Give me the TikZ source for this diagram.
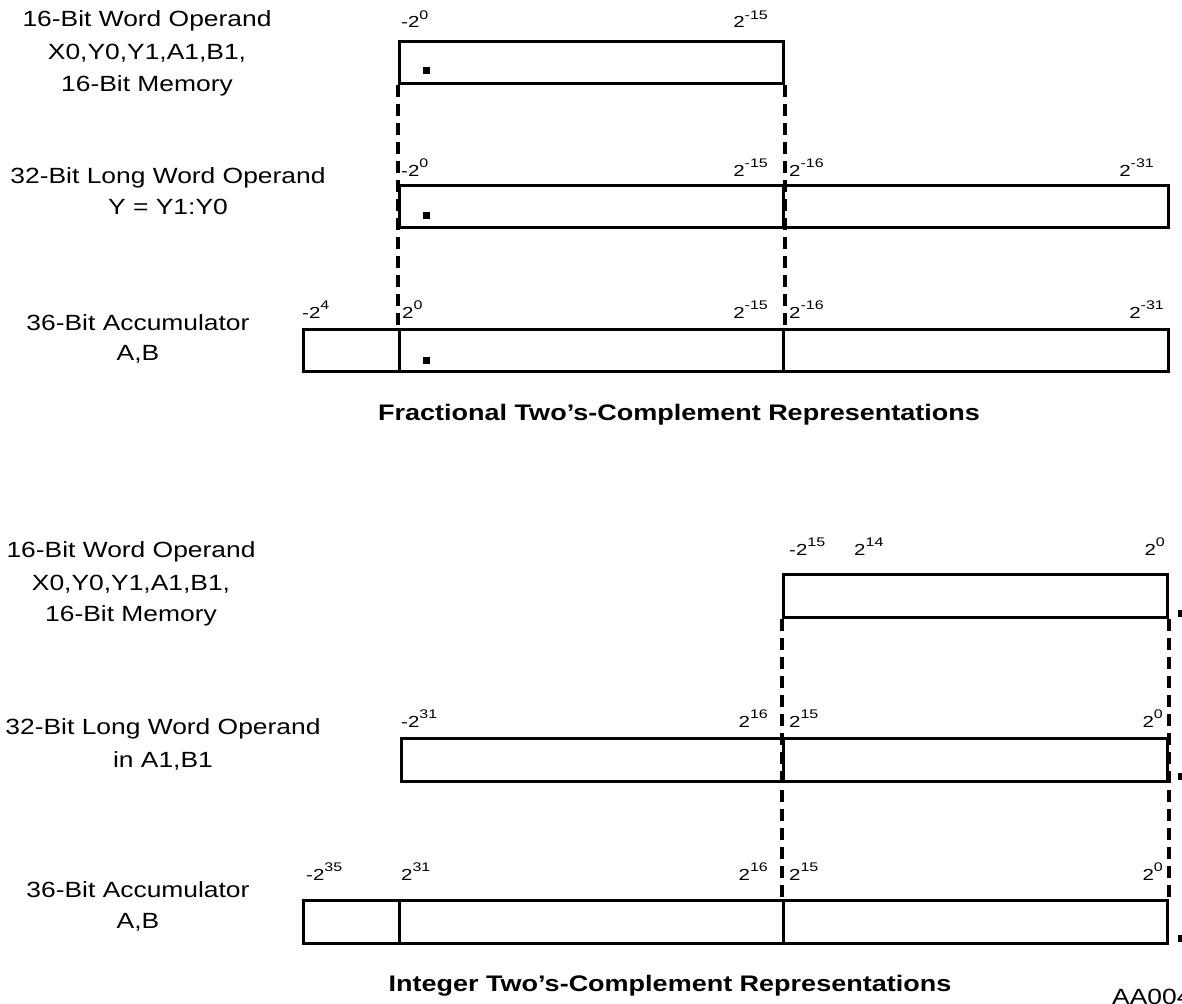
\documentclass[tikz,border=0pt]{standalone}
\usepackage{fontspec}
\setmainfont[FakeStretch=1.2]{Liberation Sans}
\newfontfamily\lblfont[FakeStretch=1.28]{Liberation Sans}
% power-of-two weight label: base with raised exponent
\newcommand\pw[2]{#1\raisebox{8.5pt}{\fontsize{12.5}{12.5}\selectfont #2}}

\begin{document}
\begin{tikzpicture}[x=1pt, y=-1pt,
  cell/.style={draw, line width=3pt, fill=white, rectangle, inner sep=0pt, anchor=north west},
  guide/.style={line width=3.2pt, dash pattern=on 12pt off 7pt},
  desc/.style={font=\fontsize{22}{26}\selectfont, anchor=base, inner sep=0pt},
  pow/.style={font=\lblfont\fontsize{16}{18}\selectfont, inner sep=0pt},
  heading/.style={font=\bfseries\fontsize{22.5}{26}\selectfont, anchor=base, inner sep=0pt},
  point/.style={fill, rectangle, minimum size=7pt, inner sep=0pt}]
\useasboundingbox (0,0) rectangle (1182,1003);

% ---------- fractional formats ----------
\node[cell, minimum width=384pt, minimum height=42pt] (f1)  at (398,40) {};
\node[cell, minimum width=384pt, minimum height=42pt] (f2a) at (398,184) {};
\node[cell, minimum width=385pt, minimum height=42pt] (f2b) at (782,184) {};
\node[cell, minimum width=96pt,  minimum height=42pt] (f3a) at (302,328) {};
\node[cell, minimum width=384pt, minimum height=42pt] (f3b) at (398,328) {};
\node[cell, minimum width=385pt, minimum height=42pt] (f3c) at (782,328) {};

\draw[guide] (f1.south west) -- (f3b.north west);
\draw[guide] (f1.south east) -- (f3b.north east);

\node[point] (fd1) at (426,71) {};
\node[point] (fd2) at (426,215) {};
\node[point] (fd3) at (426,360) {};

\node[pow, anchor=base west] (fl1a) at (401,28) {-\pw{2}{0}};
\node[pow, anchor=base east] (fl1b) at (768,28) {\pw{2}{-15}};
\node[pow, anchor=base west] (fl2a) at (401,176) {-\pw{2}{0}};
\node[pow, anchor=base east] (fl2b) at (768,176) {\pw{2}{-15}};
\node[pow, anchor=base west] (fl2c) at (789,176) {\pw{2}{-16}};
\node[pow, anchor=base east] (fl2d) at (1154,176) {\pw{2}{-31}};
\node[pow, anchor=base west] (fl3a) at (302,318) {-\pw{2}{4}};
\node[pow, anchor=base west] (fl3b) at (402,318) {\pw{2}{0}};
\node[pow, anchor=base east] (fl3c) at (768,318) {\pw{2}{-15}};
\node[pow, anchor=base west] (fl3d) at (789,318) {\pw{2}{-16}};
\node[pow, anchor=base east] (fl3e) at (1164,318) {\pw{2}{-31}};

\node[desc] (fw1) at (147,27) {16-Bit Word Operand};
\node[desc] (fw2) at (147,60) {X0,Y0,Y1,A1,B1,};
\node[desc] (fw3) at (147,92) {16-Bit Memory};
\node[desc] (fl1) at (168,183) {32-Bit Long Word Operand};
\node[desc] (fl2) at (168,214) {Y = Y1:Y0};
\node[desc] (fa1) at (138,330) {36-Bit Accumulator};
\node[desc] (fa2) at (138,360) {A,B};

\node[heading] (ftitle) at (679,420) {Fractional Two’s-Complement Representations};

% ---------- integer formats ----------
\node[cell, minimum width=384pt, minimum height=43pt] (i1)  at (782,573) {};
\node[cell, minimum width=382pt, minimum height=43pt] (i2a) at (400,737) {};
\node[cell, minimum width=384pt, minimum height=43pt] (i2b) at (782,737) {};
\node[cell, minimum width=96pt,  minimum height=43pt] (i3a) at (302,899) {};
\node[cell, minimum width=384pt, minimum height=43pt] (i3b) at (398,899) {};
\node[cell, minimum width=384pt, minimum height=43pt] (i3c) at (782,899) {};

\draw[guide] (i1.south west) -- (i3c.north west);
\draw[guide] (i1.south east) -- (i3c.north east);

\node[point] (id1) at (1181,613) {};
\node[point] (id2) at (1181,776) {};
\node[point] (id3) at (1181,938) {};

\node[pow, anchor=base west] (il1a) at (789,555) {-\pw{2}{15}};
\node[pow, anchor=base west] (il1b) at (854,555) {\pw{2}{14}};
\node[pow, anchor=base east] (il1c) at (1165,555) {\pw{2}{0}};
\node[pow, anchor=base west] (il2a) at (401,727) {-\pw{2}{31}};
\node[pow, anchor=base east] (il2b) at (768,727) {\pw{2}{16}};
\node[pow, anchor=base west] (il2c) at (789,727) {\pw{2}{15}};
\node[pow, anchor=base east] (il2d) at (1163,727) {\pw{2}{0}};
\node[pow, anchor=base west] (il3a) at (306,880) {-\pw{2}{35}};
\node[pow, anchor=base west] (il3b) at (401,880) {\pw{2}{31}};
\node[pow, anchor=base east] (il3c) at (768,880) {\pw{2}{16}};
\node[pow, anchor=base west] (il3d) at (789,880) {\pw{2}{15}};
\node[pow, anchor=base east] (il3e) at (1163,880) {\pw{2}{0}};

\node[desc] (iw1) at (131,557) {16-Bit Word Operand};
\node[desc] (iw2) at (131,590) {X0,Y0,Y1,A1,B1,};
\node[desc] (iw3) at (131,621) {16-Bit Memory};
\node[desc] (il1) at (163,734) {32-Bit Long Word Operand};
\node[desc] (il2) at (163,767) {in A1,B1};
\node[desc] (ia1) at (138,897) {36-Bit Accumulator};
\node[desc] (ia2) at (138,928) {A,B};

\node[heading] (ititle) at (670,991) {Integer Two’s-Complement Representations};
\node[desc, anchor=base west] (figid) at (1112,1004) {AA0041};
\end{tikzpicture}
\end{document}
